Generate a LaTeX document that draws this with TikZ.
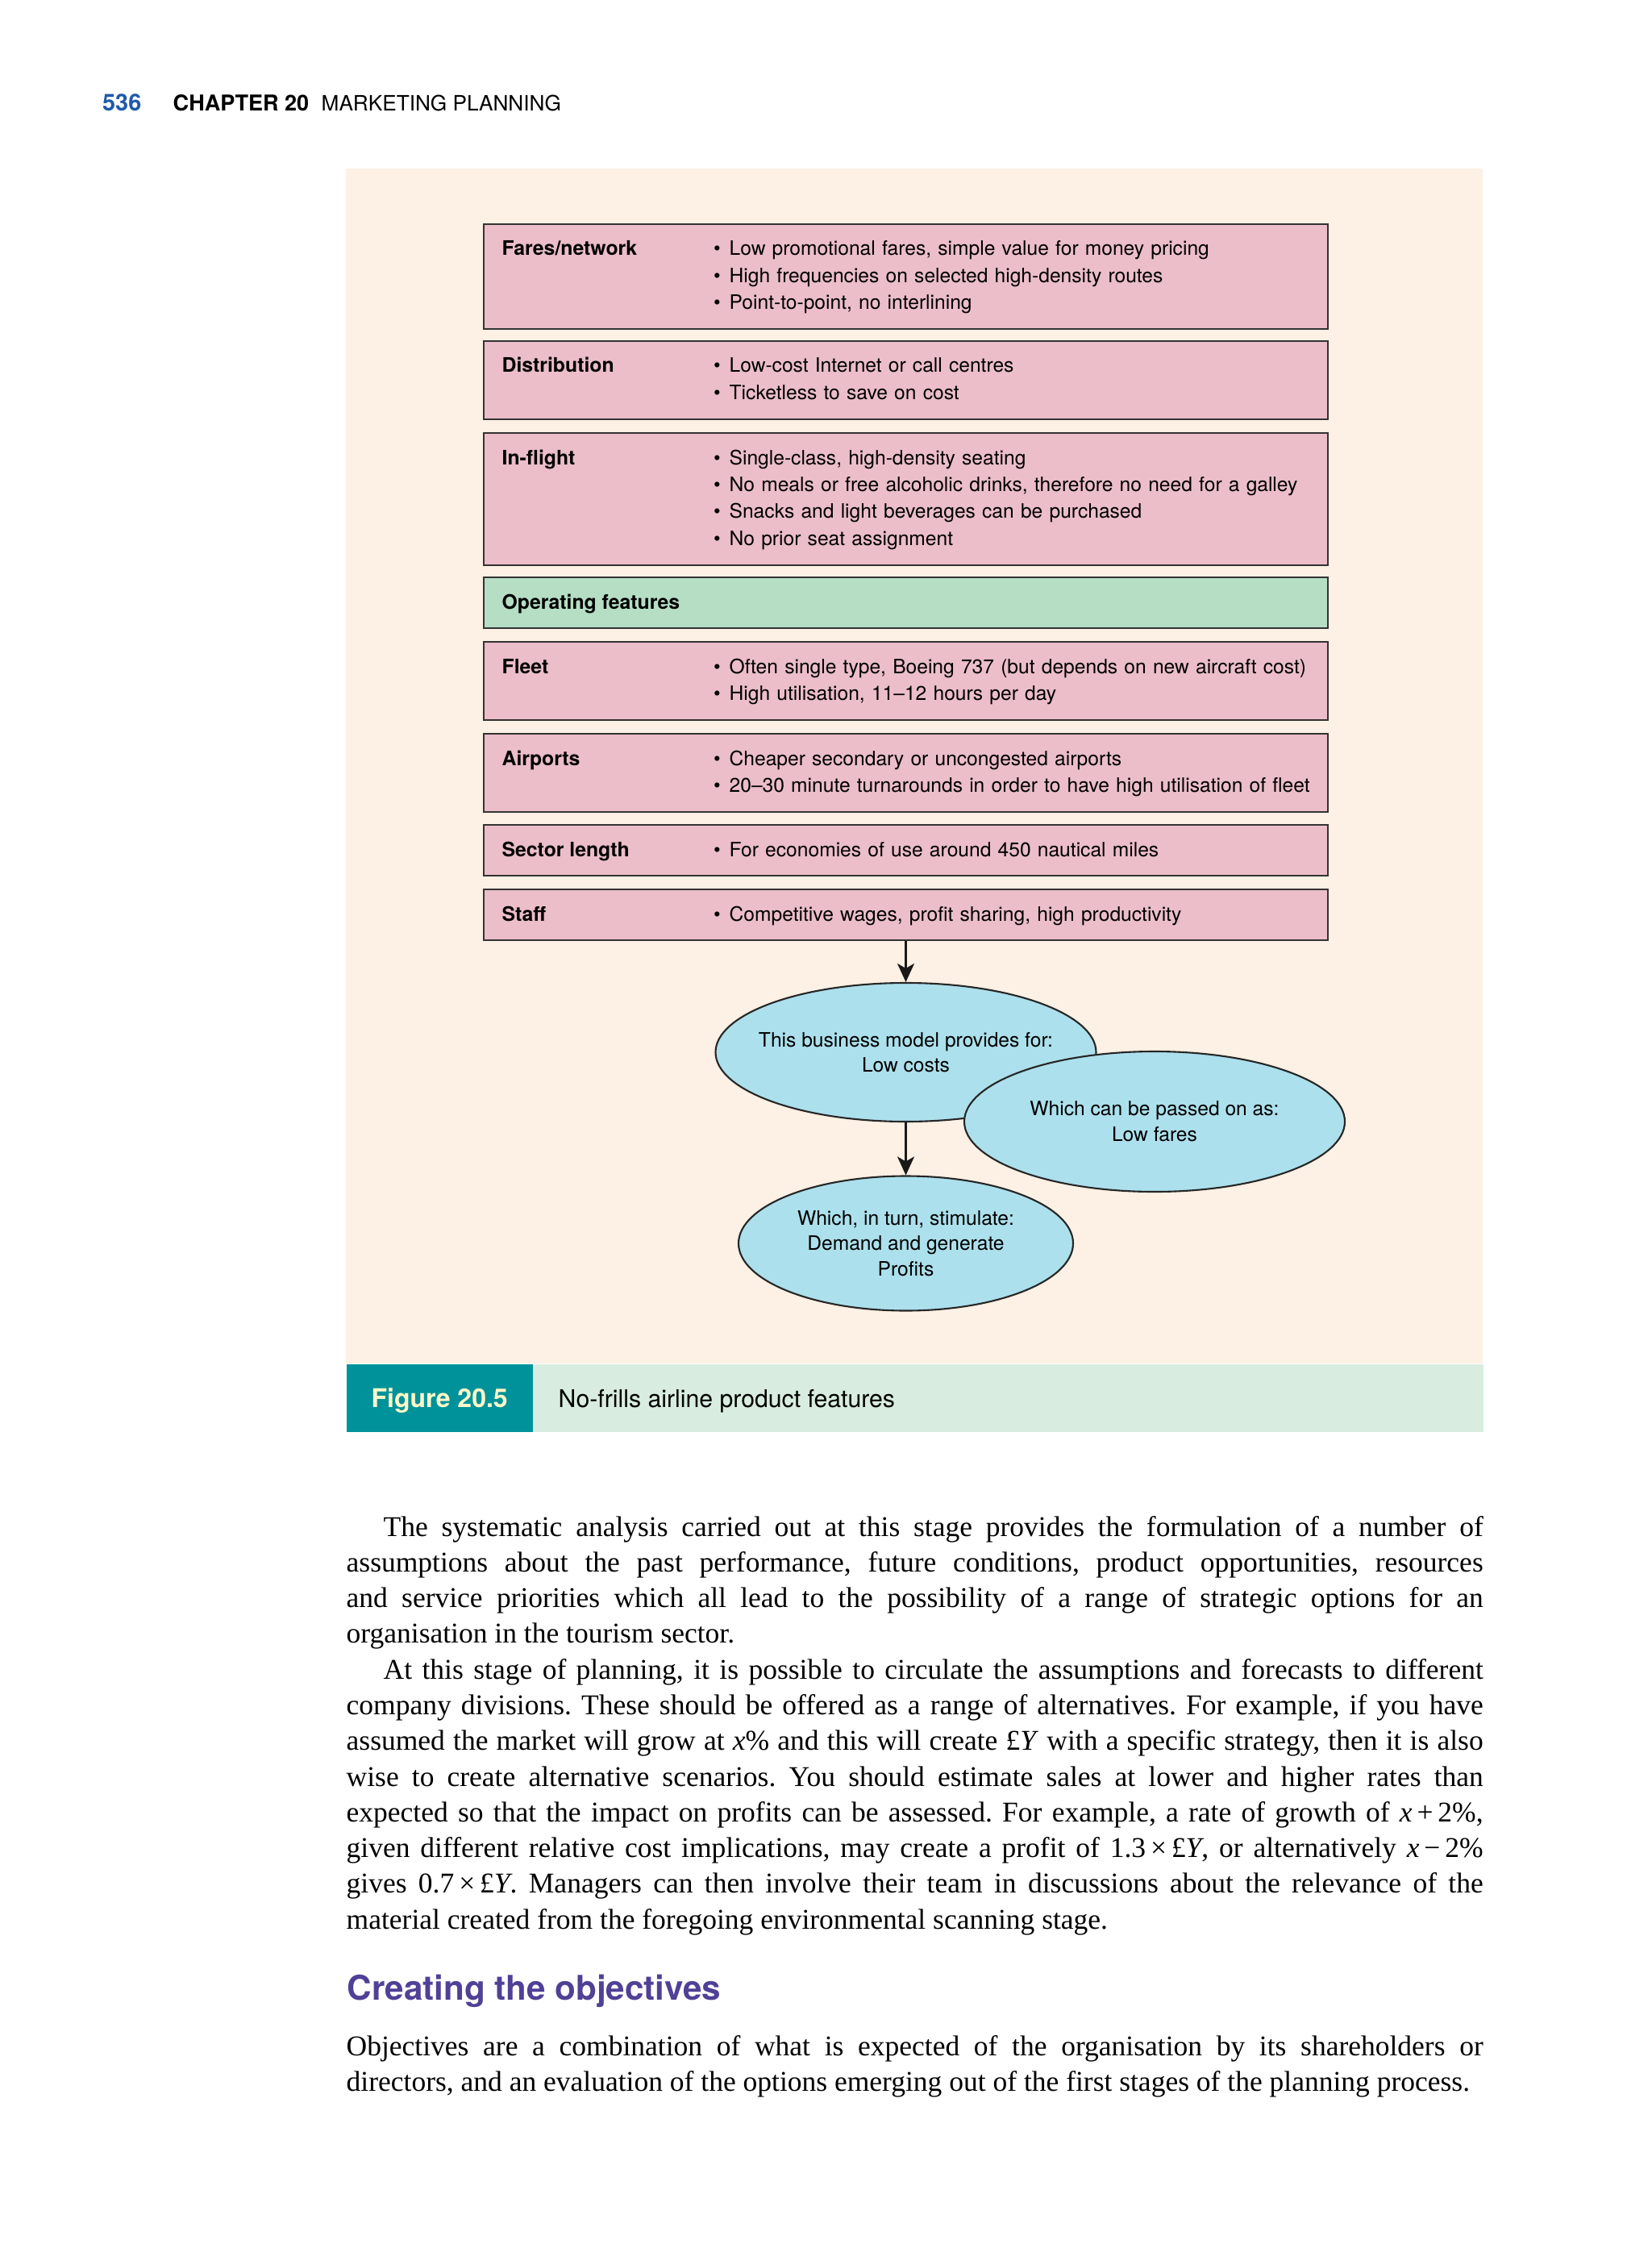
\documentclass[tikz,border=0pt]{standalone}
\usepackage{fontspec}
\setmainfont{Liberation Serif}
\newfontfamily\heros{TeX Gyre Heros}
\usetikzlibrary{shapes.geometric,arrows.meta}
\frenchspacing

\definecolor{figbg}{RGB}{253,240,228}
\definecolor{pinkfill}{RGB}{235,190,201}
\definecolor{greenfill}{RGB}{181,222,196}
\definecolor{skyfill}{RGB}{172,224,236}
\definecolor{capteal}{RGB}{0,146,155}
\definecolor{capgreen}{RGB}{216,237,223}
\definecolor{tagtext}{RGB}{255,248,200}
\definecolor{pageblue}{RGB}{30,90,170}
\definecolor{headpurple}{RGB}{80,64,150}

\newcommand{\itm}[1]{\makebox[1.95mm][l]{•}#1}
\newcommand{\bodysetup}{\fontsize{10.1}{12.6}\selectfont\spaceskip=0.25em plus 0.25em minus 0.1em\relax\hyphenpenalty=10000\relax}

\tikzset{
  rowbox/.style={draw=black!80, line width=0.6pt, fill=pinkfill, minimum width=10.47cm, inner sep=0pt, anchor=north},
  opbox/.style={rowbox, fill=greenfill},
  lbl/.style={anchor=base west, inner sep=0pt, font=\heros\fontsize{7.05}{9.5}\selectfont\bfseries},
  items/.style={anchor=base west, inner sep=0pt, text width=7.7cm, align=left, font=\heros\fontsize{7.0}{9.5}\selectfont},
  oval/.style={ellipse, draw=black!85, line width=0.6pt, fill=skyfill, inner xsep=-5mm, inner ysep=-3mm, align=center, font=\heros\fontsize{7.0}{9}\selectfont},
  arr/.style={-{Stealth[length=2.3mm,width=2.1mm,inset=0.6mm]}, line width=0.7pt, black!90},
  bodytext/.style={anchor=base west, inner sep=0pt, text width=14.1cm, align=justify, font=\bodysetup}
}

\begin{document}
\begin{tikzpicture}
    \useasboundingbox (0,0) rectangle (20.48,-27.83);
    % Running head
    \node[anchor=base west, inner sep=0pt, font=\heros\fontsize{8.2}{10}\selectfont\bfseries, text=pageblue] (pgno) at (1.265,-1.38) {536};
    \node[anchor=base west, inner sep=0pt, font=\heros\fontsize{7.7}{10}\selectfont\bfseries] (chap) at (2.14,-1.38) {CHAPTER 20};
    \node[anchor=base west, inner sep=0pt, font=\heros\fontsize{7.45}{10}\selectfont] (chaptitle) at (3.98,-1.38) {MARKETING PLANNING};

    % Figure panel
    \fill[figbg] (4.29,-2.09) rectangle (18.39,-16.91);

    % Fares/network
    \node[rowbox, minimum height=1.30cm] (fares) at (11.235,-2.77) {};
    \node[lbl] (faresL) at ([xshift=2.3mm,yshift=-4mm]fares.north west) {Fares/network};
    \node[items] (faresT) at ([xshift=28.55mm,yshift=-4mm]fares.north west) {\itm{Low promotional fares, simple value for money pricing}\\ \itm{High frequencies on selected high-density routes}\\ \itm{Point-to-point, no interlining}};
    % Distribution
    \node[rowbox, minimum height=0.965cm] (distr) at (11.235,-4.22) {};
    \node[lbl] (distrL) at ([xshift=2.3mm,yshift=-4mm]distr.north west) {Distribution};
    \node[items] (distrT) at ([xshift=28.55mm,yshift=-4mm]distr.north west) {\itm{Low-cost Internet or call centres}\\ \itm{Ticketless to save on cost}};
    % In-flight
    \node[rowbox, minimum height=1.635cm] (inflight) at (11.235,-5.36) {};
    \node[lbl] (inflightL) at ([xshift=2.3mm,yshift=-4mm]inflight.north west) {In-flight};
    \node[items] (inflightT) at ([xshift=28.55mm,yshift=-4mm]inflight.north west) {\itm{Single-class, high-density seating}\\ \itm{No meals or free alcoholic drinks, therefore no need for a galley}\\ \itm{Snacks and light beverages can be purchased}\\ \itm{No prior seat assignment}};
    % Operating features
    \node[opbox, minimum height=0.63cm] (operating) at (11.235,-7.15) {};
    \node[lbl] (operatingL) at ([xshift=2.3mm,yshift=-4mm]operating.north west) {Operating features};
    % Fleet
    \node[rowbox, minimum height=0.965cm] (fleet) at (11.235,-7.95) {};
    \node[lbl] (fleetL) at ([xshift=2.3mm,yshift=-4mm]fleet.north west) {Fleet};
    \node[items] (fleetT) at ([xshift=28.55mm,yshift=-4mm]fleet.north west) {\itm{Often single type, Boeing 737 (but depends on new aircraft cost)}\\ \itm{High utilisation, 11–12 hours per day}};
    % Airports
    \node[rowbox, minimum height=0.965cm] (airports) at (11.235,-9.09) {};
    \node[lbl] (airportsL) at ([xshift=2.3mm,yshift=-4mm]airports.north west) {Airports};
    \node[items] (airportsT) at ([xshift=28.55mm,yshift=-4mm]airports.north west) {\itm{Cheaper secondary or uncongested airports}\\ \itm{20–30 minute turnarounds in order to have high utilisation of fleet}};
    % Sector length
    \node[rowbox, minimum height=0.63cm] (sector) at (11.235,-10.22) {};
    \node[lbl] (sectorL) at ([xshift=2.3mm,yshift=-4mm]sector.north west) {Sector length};
    \node[items] (sectorT) at ([xshift=28.55mm,yshift=-4mm]sector.north west) {\itm{For economies of use around 450 nautical miles}};
    % Staff
    \node[rowbox, minimum height=0.63cm] (staff) at (11.235,-11.02) {};
    \node[lbl] (staffL) at ([xshift=2.3mm,yshift=-4mm]staff.north west) {Staff};
    \node[items] (staffT) at ([xshift=28.55mm,yshift=-4mm]staff.north west) {\itm{Competitive wages, profit sharing, high productivity}};

    % Outcomes
    \node[oval, minimum width=4.72cm, minimum height=1.72cm] (lowcost) at (11.235,-13.05) {This business model provides for:\\ Low costs};
    \node[oval, minimum width=4.72cm, minimum height=1.74cm] (lowfare) at (14.32,-13.91) {Which can be passed on as:\\ Low fares};
    \node[oval, minimum width=4.15cm, minimum height=1.67cm] (profit) at (11.235,-15.42) {Which, in turn, stimulate:\\ Demand and generate\\ Profits};
    % Arrows
    \draw[arr] (staff.south) -- (lowcost.north);
    \draw[arr] (lowcost.south) -- (profit.north);

    % Caption
    \node[anchor=north west, fill=capgreen, minimum width=14.1cm, minimum height=0.84cm, inner sep=0pt] (capbar) at (4.29,-16.91) {};
    \node[anchor=north west, fill=capteal, minimum width=2.31cm, minimum height=0.84cm, inner sep=0pt] (figbox) at (4.29,-16.91) {};
    \node[anchor=base, inner sep=0pt, text=tagtext, font=\heros\fontsize{9.1}{11}\selectfont\bfseries] (figtag) at ([yshift=-1.2mm]figbox.center) {Figure 20.5};
    \node[anchor=base west, inner sep=0pt, font=\heros\fontsize{8.6}{11}\selectfont] (captxt) at ([xshift=2.63cm,yshift=-1.2mm]figbox.center -| capbar.west) {No-frills airline product features};

    % Body text
    \node[bodytext] (body) at (4.29,-19.05) {\hspace*{4.6mm}The systematic analysis carried out at this stage provides the formulation of a number of\linebreak
assumptions about the past performance, future conditions, product opportunities, resources\linebreak
and service priorities which all lead to the possibility of a range of strategic options for an\linebreak
organisation in the tourism sector.\par
\hspace*{4.6mm}At this stage of planning, it is possible to circulate the assumptions and forecasts to different\linebreak
company divisions. These should be offered as a range of alternatives. For example, if you have\linebreak
assumed the market will grow at \textit{x}\% and this will create £\textit{Y} with a specific strategy, then it is also\linebreak
wise to create alternative scenarios. You should estimate sales at lower and higher rates than\linebreak
expected so that the impact on profits can be assessed. For example, a rate of growth of \textit{x}\,+\,2\%,\linebreak
given different relative cost implications, may create a profit of 1.3\,×\,£\textit{Y}, or alternatively \textit{x}\,−\,2\%\linebreak
gives 0.7\,×\,£\textit{Y}. Managers can then involve their team in discussions about the relevance of the\linebreak
material created from the foregoing environmental scanning stage.};
    \node[anchor=base west, inner sep=0pt, text=headpurple, font=\heros\fontsize{12}{14}\selectfont\bfseries] (objhead) at (4.30,-24.80) {Creating the objectives};
    \node[bodytext] (objtext) at (4.29,-25.49) {\parfillskip=0pt\relax Objectives are a combination of what is expected of the organisation by its shareholders or\linebreak
directors, and an evaluation of the options emerging out of the first stages of the planning process.};
\end{tikzpicture}
\end{document}
